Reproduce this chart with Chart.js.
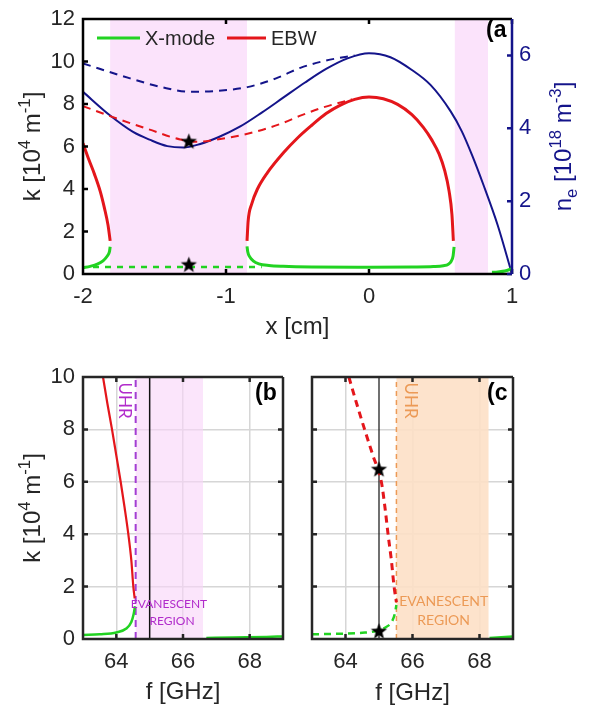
<!DOCTYPE html>
<html>
<head>
<meta charset="utf-8">
<script src="https://cdn.jsdelivr.net/npm/chart.js@4.4.0/dist/chart.umd.min.js"></script>
<style>
  body { margin: 0; background: #fff; }
  #wrap { position: relative; width: 595px; height: 711px; }
  canvas { position: absolute; }
</style>
</head>
<body>
<div id="wrap">
  <canvas id="chartA" width="595" height="345" style="left:0;top:0"></canvas>
  <canvas id="chartB" width="300" height="366" style="left:0;top:345px"></canvas>
  <canvas id="chartC" width="300" height="366" style="left:295px;top:345px"></canvas>
</div>
<script>
// ---- panel (a): x [cm], k [1e4 m^-1], ne [1e18 m^-3]
const xTicksA = [-2, -1, 0, 1];
const kTicksA = [0, 2, 4, 6, 8, 10, 12];
const neTicksA = [0, 2, 4, 6];
const bandsA = [[-1.81, -0.853], [0.6, 0.832]];

const xmodeX1 = [-2, -1.95, -1.9, -1.86, -1.83, -1.815, -1.81];
const xmodeK1 = [0.3, 0.36, 0.46, 0.62, 0.85, 1.05, 1.28];
const xmodeX2 = [-0.853, -0.848, -0.835, -0.81, -0.77, -0.7, -0.6, -0.4, 0, 0.3, 0.45, 0.52, 0.555, 0.575, 0.588, 0.595];
const xmodeK2 = [1.3, 1.05, 0.82, 0.62, 0.48, 0.4, 0.36, 0.33, 0.32, 0.33, 0.35, 0.39, 0.46, 0.6, 0.85, 1.28];
const xmodeX3 = [0.86, 0.9, 0.95, 1.0];
const xmodeK3 = [0.08, 0.1, 0.14, 0.25];
const xmodeDashX = [-1.93, -0.75];
const xmodeDashK = [0.33, 0.33];

const ebwX1 = [-2, -1.96, -1.92, -1.88, -1.85, -1.825, -1.81];
const ebwK1 = [6.15, 5.4, 4.7, 3.9, 3.1, 2.3, 1.56];
const ebwX2 = [-0.853, -0.845, -0.82, -0.78, -0.71, -0.6, -0.5, -0.4, -0.3, -0.2, -0.1, 0, 0.1, 0.2, 0.3, 0.38, 0.44, 0.49, 0.53, 0.56, 0.58, 0.59];
const ebwK2 = [1.56, 2.5, 3.3, 4.0, 4.77, 5.69, 6.4, 7.0, 7.55, 7.95, 8.22, 8.33, 8.25, 7.98, 7.5, 6.9, 6.3, 5.65, 4.85, 3.9, 2.8, 1.56];
const ebwDashX = [-2, -1.79, -1.55, -1.32, -1.2, -1.09, -0.85, -0.62, -0.48, -0.32, -0.12];
const ebwDashK = [7.9, 7.38, 6.83, 6.33, 6.22, 6.3, 6.6, 7.06, 7.45, 7.84, 8.22];

const neX = [-2, -1.81, -1.65, -1.53, -1.41, -1.3, -1.18, -1.05, -0.9, -0.75, -0.6, -0.45, -0.3, -0.15, 0, 0.15, 0.3, 0.43, 0.57, 0.65, 0.72, 0.8, 0.9, 1.0];
const neVal = [5.0, 4.35, 3.9, 3.68, 3.51, 3.47, 3.57, 3.76, 4.05, 4.43, 4.84, 5.25, 5.63, 5.92, 6.06, 5.95, 5.6, 5.19, 4.47, 3.91, 3.27, 2.45, 1.34, 0];
const neDashX = [-2, -1.67, -1.45, -1.25, -1.05, -0.85, -0.65, -0.48, -0.3, -0.1];
const neDashVal = [5.78, 5.37, 5.13, 5.0, 5.03, 5.13, 5.37, 5.66, 5.86, 6.0];

const starXA = [-1.26, -1.26];
const starKA = [6.22, 0.42];

// ---- panels (b) and (c): f [GHz]
const fTicks = [64, 66, 68];
const kTicksBC = [0, 2, 4, 6, 8, 10];
const fLaunch = 65;

const uhrB = 64.58;
const bandB = [64.58, 66.6];
const ebwFB = [63.6, 63.73, 63.87, 64.0, 64.13, 64.25, 64.36, 64.45, 64.51, 64.55];
const ebwKB = [10, 9, 8, 7, 6, 5, 4, 3, 2, 1.55];
const xmodeFB1 = [63, 63.5, 64, 64.3, 64.45, 64.52, 64.56];
const xmodeKB1 = [0.15, 0.18, 0.25, 0.4, 0.65, 0.95, 1.25];
const xmodeFB2 = [66.7, 67.5, 68.5, 69];
const xmodeKB2 = [0.04, 0.06, 0.08, 0.1];

const uhrC = 65.52;
const bandC = [65.52, 68.27];
const ebwFC = [64.1, 64.33, 64.57, 64.82, 65.07, 65.18, 65.27, 65.37, 65.45, 65.52];
const ebwKC = [10, 9, 8, 7, 6, 5, 4, 3, 2, 1.4];
const xmodeFC1 = [63, 63.8, 64.5, 64.9, 65.2, 65.38, 65.47, 65.52];
const xmodeKC1 = [0.18, 0.2, 0.24, 0.3, 0.45, 0.65, 0.95, 1.3];
const xmodeFC2 = [68.3, 69];
const xmodeKC2 = [0.04, 0.1];
const starFC = [65, 65];
const starKC = [6.46, 0.28];

// ---- looks
const FONT = '"Liberation Sans", Arial, sans-serif';
const NARROW = 'Lato, "Open Sans", sans-serif';
const TXT = '#262626';
const NAVY = '#14148a';
const GREEN = '#22d322';
const RED = '#e4161b';
const PINK = '#fbe3fb';
const PURPLE = '#b12ccb';
const ORANGE = '#ec9a56';

const pts = (xs, ys) => xs.map((x, i) => ({ x: x, y: ys[i] }));
const vline = (x, y0, y1) => [{ x: x, y: y0 }, { x: x, y: y1 }];

function makeStar(r) {
    const c = document.createElement('canvas');
    c.width = c.height = Math.ceil(2 * r + 2);
    const g = c.getContext('2d');
    g.beginPath();
    for (let i = 0; i < 10; i++) {
        const rr = i % 2 ? r * 0.42 : r;
        const a = -Math.PI / 2 + i * Math.PI / 5;
        g.lineTo(c.width / 2 + rr * Math.cos(a), c.height / 2 + rr * Math.sin(a));
    }
    g.closePath();
    g.fillStyle = '#000';
    g.fill();
    return c;
}
const starImg = makeStar(8.5);

// text with super/subscripts, centered at x,y
function richText(ctx, parts, x, y, size, color, angle) {
    ctx.save();
    ctx.translate(x, y);
    ctx.rotate(angle || 0);
    ctx.fillStyle = color;
    ctx.textBaseline = 'alphabetic';
    ctx.textAlign = 'left';
    let w = 0;
    parts.forEach(p => {
        ctx.font = (p.s ? size * 0.7 : size) + 'px ' + FONT;
        w += ctx.measureText(p.t).width;
    });
    let cx = -w / 2;
    parts.forEach(p => {
        ctx.font = (p.s ? size * 0.7 : size) + 'px ' + FONT;
        const dy = p.s === 'sup' ? -size * 0.42 : p.s === 'sub' ? size * 0.22 : 0;
        ctx.fillText(p.t, cx, size * 0.35 + dy);
        cx += ctx.measureText(p.t).width;
    });
    ctx.restore();
}

const kTitle = [{ t: 'k [10' }, { t: '4', s: 'sup' }, { t: ' m' }, { t: '-1', s: 'sup' }, { t: ']' }];
const neTitle = [{ t: 'n' }, { t: 'e', s: 'sub' }, { t: ' [10' }, { t: '18', s: 'sup' }, { t: ' m' }, { t: '-3', s: 'sup' }, { t: ']' }];

function line(data, color, width, dash, axis) {
    return {
        data: data, borderColor: color, borderWidth: width, borderDash: dash || [],
        showLine: true, pointRadius: 0, fill: false,
        cubicInterpolationMode: 'monotone', yAxisID: axis || 'y'
    };
}
function straight(data, color, width, dash) {
    return { data: data, borderColor: color, borderWidth: width, borderDash: dash || [], showLine: true, pointRadius: 0, fill: false, tension: 0 };
}
function stars(data) {
    return { data: data, showLine: false, pointStyle: starImg, pointRadius: 9 };
}

function tickFont(size) {
    return { family: FONT, size: size, lineHeight: 1 };
}

// shaded regions, drawn through the x scale
const bandsPlugin = {
    id: 'bands',
    beforeDatasetsDraw(chart, args, opts) {
        const { ctx, chartArea: a, scales: { x } } = chart;
        ctx.save();
        ctx.fillStyle = opts.color;
        opts.ranges.forEach(r => {
            const x0 = x.getPixelForValue(r[0]);
            const x1 = x.getPixelForValue(r[1]);
            ctx.fillRect(x0, a.top, x1 - x0, a.height);
        });
        ctx.restore();
    }
};

// box around the axes and inward tick marks (matlab look)
const framePlugin = {
    id: 'frame',
    afterDatasetsDraw(chart, args, opts) {
        const { ctx, chartArea: a, scales } = chart;
        const len = 5;
        ctx.save();
        ctx.lineWidth = opts.width;
        ctx.strokeStyle = opts.color;
        ctx.beginPath();
        scales.x.ticks.forEach(t => {
            const px = scales.x.getPixelForValue(t.value);
            ctx.moveTo(px, a.bottom); ctx.lineTo(px, a.bottom - len);
            ctx.moveTo(px, a.top); ctx.lineTo(px, a.top + len);
        });
        scales.y.ticks.forEach(t => {
            const py = scales.y.getPixelForValue(t.value);
            ctx.moveTo(a.left, py); ctx.lineTo(a.left + len, py);
            if (!scales.y1) { ctx.moveTo(a.right, py); ctx.lineTo(a.right - len, py); }
        });
        ctx.moveTo(a.right, a.top); ctx.lineTo(a.left, a.top);
        ctx.lineTo(a.left, a.bottom); ctx.lineTo(a.right, a.bottom);
        if (!scales.y1) ctx.lineTo(a.right, a.top);
        ctx.stroke();
        if (scales.y1) {
            ctx.strokeStyle = NAVY;
            ctx.beginPath();
            scales.y1.ticks.forEach(t => {
                const py = scales.y1.getPixelForValue(t.value);
                ctx.moveTo(a.right, py); ctx.lineTo(a.right - len, py);
            });
            ctx.moveTo(a.right, a.top); ctx.lineTo(a.right, a.bottom);
            ctx.stroke();
        }
        ctx.restore();
    }
};

function panelLetter(chart, text, dx, dy) {
    const { ctx, chartArea: a } = chart;
    ctx.save();
    ctx.beginPath();
    ctx.rect(a.left, a.top, a.width, a.height);
    ctx.clip();
    ctx.font = 'bold 23px ' + FONT;
    ctx.fillStyle = '#000';
    ctx.textBaseline = 'middle';
    ctx.fillText(text, a.right - dx, a.top + dy);
    ctx.restore();
}

function regionText(chart, color, uhrPos, uhrSize, evPos, regPos, evSize) {
    const { ctx, scales: { x, y } } = chart;
    ctx.save();
    ctx.fillStyle = color;
    ctx.textAlign = 'center';
    ctx.textBaseline = 'middle';
    ctx.translate(x.getPixelForValue(uhrPos[0]), y.getPixelForValue(uhrPos[1]));
    ctx.rotate(Math.PI / 2);
    ctx.font = uhrSize + 'px ' + NARROW;
    ctx.fillText('UHR', 0, 0);
    ctx.restore();
    ctx.save();
    ctx.fillStyle = color;
    ctx.textAlign = 'center';
    ctx.textBaseline = 'middle';
    ctx.font = evSize + 'px ' + NARROW;
    ctx.fillText('EVANESCENT', x.getPixelForValue(evPos[0]), y.getPixelForValue(evPos[1]));
    ctx.fillText('REGION', x.getPixelForValue(regPos[0]), y.getPixelForValue(regPos[1]));
    ctx.restore();
}

function fixedTicks(values) {
    return s => { s.ticks = values.map(v => ({ value: v })); };
}

Chart.defaults.animation = false;
Chart.defaults.font.family = FONT;

// ---------------- panel (a)
new Chart(document.getElementById('chartA'), {
    type: 'scatter',
    data: {
        datasets: [
            stars(pts(starXA, starKA)),
            line(pts(xmodeX1, xmodeK1), GREEN, 3),
            line(pts(xmodeX2, xmodeK2), GREEN, 3),
            line(pts(xmodeX3, xmodeK3), GREEN, 3),
            straight(pts(xmodeDashX, xmodeDashK), GREEN, 2.5, [6, 6]),
            line(pts(ebwX1, ebwK1), RED, 3),
            line(pts(ebwX2, ebwK2), RED, 3),
            line(pts(ebwDashX, ebwDashK), RED, 2, [8, 6]),
            line(pts(neX, neVal), NAVY, 2, [], 'y1'),
            line(pts(neDashX, neDashVal), NAVY, 2, [8, 6], 'y1')
        ]
    },
    options: {
        responsive: false,
        devicePixelRatio: 1,
        layout: { padding: { top: 12, left: 0, right: 0, bottom: 0 } },
        plugins: {
            legend: { display: false },
            tooltip: { enabled: false },
            bands: { color: PINK, ranges: bandsA },
            frame: { color: '#000', width: 2.5 }
        },
        scales: {
            x: {
                type: 'linear', min: -2, max: 1,
                afterBuildTicks: fixedTicks(xTicksA),
                afterFit: s => { s.height = 71; },
                grid: { display: false, drawTicks: false },
                border: { display: false },
                ticks: { font: tickFont(22), color: TXT, padding: 12, maxRotation: 0, autoSkip: false }
            },
            y: {
                min: 0, max: 12,
                afterBuildTicks: fixedTicks(kTicksA),
                afterFit: s => { s.width = 83; },
                grid: { display: false, drawTicks: false },
                border: { display: false },
                ticks: { font: tickFont(22), color: TXT, padding: 8, autoSkip: false }
            },
            y1: {
                position: 'right', min: 0, max: 7,
                afterBuildTicks: fixedTicks(neTicksA),
                afterFit: s => { s.width = 83; },
                grid: { display: false, drawTicks: false },
                border: { display: false },
                ticks: { font: tickFont(22), color: NAVY, padding: 7, autoSkip: false }
            }
        }
    },
    plugins: [bandsPlugin, framePlugin, {
        id: 'textA',
        afterDraw(chart) {
            const { ctx, chartArea: a } = chart;
            richText(ctx, kTitle, 32, (a.top + a.bottom) / 2, 24, TXT, -Math.PI / 2);
            richText(ctx, neTitle, 563, (a.top + a.bottom) / 2, 24, NAVY, -Math.PI / 2);
            richText(ctx, [{ t: 'x [cm]' }], (a.left + a.right) / 2, 326, 24, TXT, 0);
            // legend
            ctx.save();
            ctx.lineWidth = 3;
            ctx.strokeStyle = GREEN;
            ctx.beginPath(); ctx.moveTo(97, 38); ctx.lineTo(140, 38); ctx.stroke();
            ctx.strokeStyle = RED;
            ctx.beginPath(); ctx.moveTo(227, 38); ctx.lineTo(266, 38); ctx.stroke();
            ctx.font = '20px ' + FONT;
            ctx.fillStyle = TXT;
            ctx.textBaseline = 'middle';
            ctx.fillText('X-mode', 145, 39);
            ctx.fillText('EBW', 271, 39);
            ctx.restore();
            panelLetter(chart, '(a', 26, 12);
        }
    }]
});

// ---------------- panels (b) and (c)
function freqScales(showY, yWidth) {
    return {
        x: {
            type: 'linear', min: 63, max: 69,
            afterBuildTicks: fixedTicks(fTicks),
            afterFit: s => { s.height = 72; },
            grid: { color: '#d6d6d6', lineWidth: 1.5, drawTicks: false },
            border: { display: false },
            ticks: { font: tickFont(22), color: TXT, padding: 12, maxRotation: 0, autoSkip: false }
        },
        y: {
            min: 0, max: 10,
            afterBuildTicks: fixedTicks(kTicksBC),
            afterFit: s => { s.width = yWidth; },
            grid: { color: '#d6d6d6', lineWidth: 1.5, drawTicks: false },
            border: { display: false },
            ticks: { display: showY, font: tickFont(22), color: TXT, padding: 8, autoSkip: false }
        }
    };
}

new Chart(document.getElementById('chartB'), {
    type: 'scatter',
    data: {
        datasets: [
            line(pts(ebwFB, ebwKB), RED, 2.2),
            line(pts(xmodeFB1, xmodeKB1), GREEN, 2.5),
            line(pts(xmodeFB2, xmodeKB2), GREEN, 2.5),
            straight(vline(fLaunch, 0, 10), '#111', 1.5),
            straight(vline(uhrB, 0, 10), '#a33dd3', 2, [7, 5])
        ]
    },
    options: {
        responsive: false,
        devicePixelRatio: 1,
        layout: { padding: { top: 32, left: 0, right: 17, bottom: 0 } },
        plugins: {
            legend: { display: false },
            tooltip: { enabled: false },
            bands: { color: 'rgba(249,212,249,0.6)', ranges: [bandB] },
            frame: { color: TXT, width: 2.5 }
        },
        scales: freqScales(true, 83)
    },
    plugins: [bandsPlugin, framePlugin, {
        id: 'textB',
        afterDraw(chart) {
            const { ctx, chartArea: a } = chart;
            richText(ctx, kTitle, 32, (a.top + a.bottom) / 2, 24, TXT, -Math.PI / 2);
            richText(ctx, [{ t: 'f [GHz]' }], (a.left + a.right) / 2, 346, 24, TXT, 0);
            regionText(chart, PURPLE, [64.24, 9.1], 17, [65.58, 1.34], [65.67, 0.69], 12);
            panelLetter(chart, '(b', 28, 17);
        }
    }]
});

new Chart(document.getElementById('chartC'), {
    type: 'scatter',
    data: {
        datasets: [
            stars(pts(starFC, starKC)),
            line(pts(ebwFC, ebwKC), RED, 3, [7, 5]),
            line(pts(xmodeFC1, xmodeKC1), GREEN, 2.5, [7, 5]),
            line(pts(xmodeFC2, xmodeKC2), GREEN, 2.5),
            straight(vline(fLaunch, 0, 10), '#111', 1.2),
            straight(vline(uhrC, 0, 10), ORANGE, 1.5, [5, 4])
        ]
    },
    options: {
        responsive: false,
        devicePixelRatio: 1,
        layout: { padding: { top: 32, left: 0, right: 82, bottom: 0 } },
        plugins: {
            legend: { display: false },
            tooltip: { enabled: false },
            bands: { color: 'rgba(253,224,198,0.9)', ranges: [bandC] },
            frame: { color: TXT, width: 2.5 }
        },
        scales: freqScales(false, 17)
    },
    plugins: [bandsPlugin, framePlugin, {
        id: 'textC',
        afterDraw(chart) {
            const { ctx, chartArea: a } = chart;
            richText(ctx, [{ t: 'f [GHz]' }], (a.left + a.right) / 2, 347, 24, TXT, 0);
            regionText(chart, ORANGE, [65.95, 9.1], 17, [66.93, 1.45], [66.93, 0.69], 14);
            panelLetter(chart, '(c', 26, 17);
        }
    }]
});
</script>
</body>
</html>
